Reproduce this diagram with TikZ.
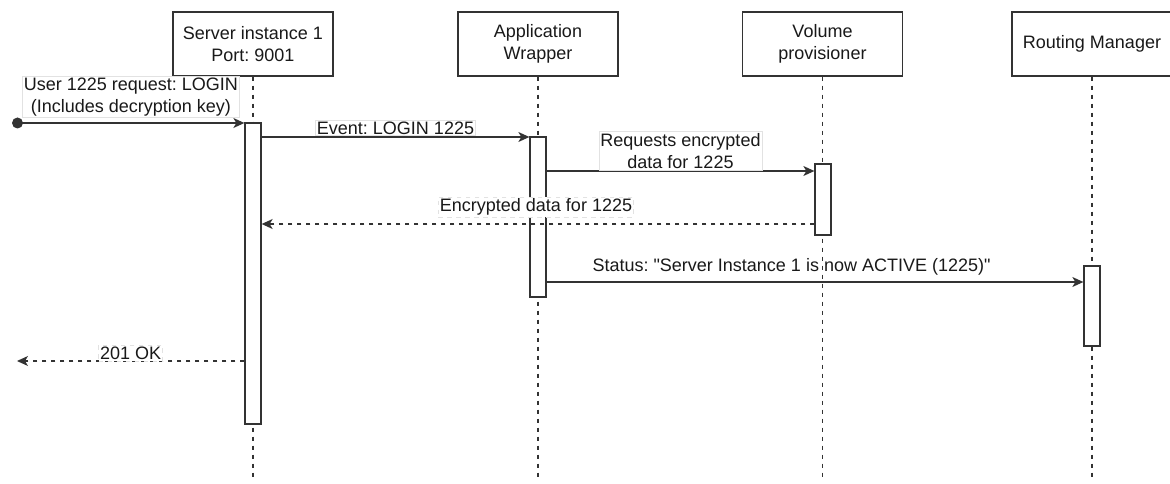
\documentclass[tikz,border=0pt]{standalone}
\usepackage{fontspec}
\setmainfont{Liberation Sans}
\usepackage{tikz}
\usetikzlibrary{arrows.meta,positioning}
\definecolor{linegray}{RGB}{51,51,51}
\definecolor{labelgray}{RGB}{226,226,226}
\frenchspacing

\begin{document}
\begin{tikzpicture}[x=1pt, y=-1pt, >={Stealth[length=11pt,width=10pt,inset=3pt]},
  font=\fontsize{18}{22}\selectfont, text=black!90,
  actor/.style={draw=linegray, line width=1.3pt, fill=white, minimum width=160pt, minimum height=64pt, align=center, inner sep=2pt},
  lifeline/.style={draw=linegray, line width=1.3pt, dash pattern=on 4.5pt off 4.5pt},
  actbar/.style={draw=linegray, line width=1.3pt, fill=white, minimum width=16pt, inner sep=0pt},
  msg/.style={->, draw=linegray, line width=1.3pt},
  reply/.style={msg, dash pattern=on 4.5pt off 4.5pt},
  msglabel/.style={fill=white, draw=labelgray, line width=0.5pt, inner sep=1.5pt, align=center}]
  \useasboundingbox (0,0) rectangle (1170,484);

  % participants
  \node[actor] (srv) at (253,44) {Server instance 1\\Port: 9001};
  \node[actor] (app) at (538,44) {Application\\Wrapper};
  \node[actor] (vol) at (822.5,44) {Volume\\provisioner};
  \node[actor] (rt) at (1092,44) {Routing Manager};

  \coordinate (bottom) at (0,480);
  \foreach \n in {srv,app,vol,rt}
    \draw[lifeline] (\n.south) -- (\n.south |- bottom);

  % activation bars
  \node[actbar, minimum height=301pt] (srvbar) at (253,273.5) {};
  \node[actbar, minimum height=160pt] (appbar) at (538,217) {};
  \node[actbar, minimum height=71pt] (volbar) at (823,199.5) {};
  \node[actbar, minimum height=80pt] (rtbar) at (1092,306) {};

  % message rows
  \coordinate (m2) at (0,137);
  \coordinate (m3) at (0,171);
  \coordinate (m4) at (0,224);
  \coordinate (m5) at (0,282);
  \coordinate (m6) at (0,361);
  \coordinate (outside) at (17,361);

  \node[circle, fill=linegray, minimum size=11pt, inner sep=0pt] (start) at (17.5,123) {};

  \draw[msg] (start.center) -- (srvbar.west |- start)
    node[msglabel, midway, above=5pt] (loginlbl) {User 1225 request: LOGIN\\(Includes decryption key)};
  \draw[msg] (srvbar.east |- m2) -- (appbar.west |- m2)
    node[msglabel, midway, above=1pt] (eventlbl) {Event: LOGIN 1225};
  \draw[msg] (appbar.east |- m3) -- (volbar.west |- m3)
    node[msglabel, midway, above=1pt] (reqlbl) {Requests encrypted\\data for 1225};
  \draw[reply] (volbar.west |- m4) -- (srvbar.east |- m4)
    node[msglabel, midway, above=7pt, xshift=-2pt] (datalbl) {Encrypted data for 1225};
  \draw[msg] (appbar.east |- m5) -- (rtbar.west |- m5)
    node[inner sep=1.5pt, midway, above=5pt, xshift=-23.5pt] (statuslbl) {Status: \textquotedbl Server Instance 1 is now ACTIVE (1225)\textquotedbl};
  \draw[reply] (srvbar.west |- m6) -- (outside)
    node[msglabel, midway, above=0pt] (oklbl) {201 OK};
\end{tikzpicture}
\end{document}
